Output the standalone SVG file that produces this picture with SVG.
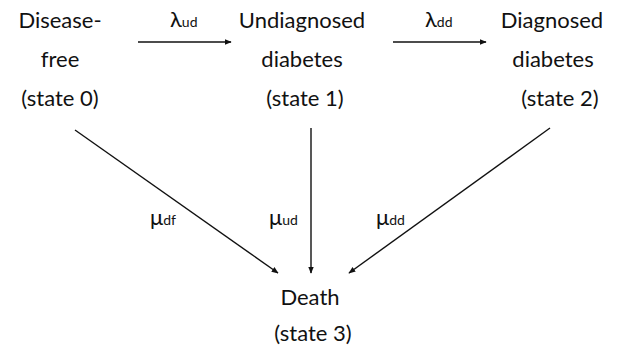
<svg xmlns="http://www.w3.org/2000/svg" width="619" height="354" viewBox="0 0 619 354">
<style>
text{font-family:Lato,"Open Sans",sans-serif;fill:#111;}
.n{font-size:22px;text-anchor:middle;}
.g{font-size:22px;}
.s{font-size:14px;}
.c{stroke:#111;stroke-width:1.4;fill:none;marker-end:url(#ah);}
</style>
<defs>
<marker id="ah" viewBox="0 0 10 10" refX="9" refY="5" markerWidth="7" markerHeight="7" markerUnits="userSpaceOnUse" orient="auto">
<path d="M0,1 L10,5 L0,9 z" fill="#111"/>
</marker>
</defs>
<rect width="619" height="354" fill="#fff"/>
<g id="state0">
<text class="n" x="60" y="28">Disease-</text>
<text class="n" x="60" y="67">free</text>
<text class="n" x="60" y="106">(state 0)</text>
</g>
<g id="state1">
<text class="n" x="302" y="28">Undiagnosed</text>
<text class="n" x="302" y="67">diabetes</text>
<text class="n" x="305" y="106">(state 1)</text>
</g>
<g id="state2">
<text class="n" x="552" y="28">Diagnosed</text>
<text class="n" x="553" y="67">diabetes</text>
<text class="n" x="560" y="106">(state 2)</text>
</g>
<g id="state3">
<text class="n" x="310" y="305">Death</text>
<text class="n" x="313" y="341">(state 3)</text>
</g>
<g id="connectors">
<line class="c" x1="138" y1="42" x2="231" y2="42"/>
<line class="c" x1="393" y1="42" x2="486" y2="42"/>
<line class="c" x1="75" y1="130" x2="278" y2="273"/>
<line class="c" x1="311" y1="128" x2="311" y2="273"/>
<line class="c" x1="550" y1="128" x2="349" y2="273"/>
<text class="g" x="170" y="27">λ<tspan class="s">ud</tspan></text>
<text class="g" x="425" y="27">λ<tspan class="s">dd</tspan></text>
<text class="g" x="150" y="225">μ<tspan class="s">df</tspan></text>
<text class="g" x="269" y="225">μ<tspan class="s">ud</tspan></text>
<text class="g" x="376" y="225">μ<tspan class="s">dd</tspan></text>
</g>
</svg>
